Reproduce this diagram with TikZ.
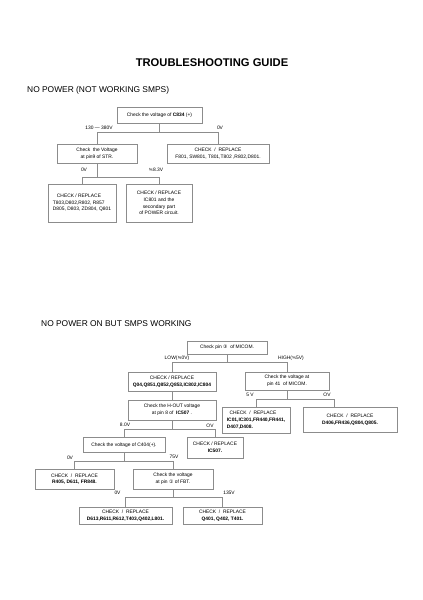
\documentclass[tikz,border=0pt]{standalone}
\usepackage{fontspec}
\setmainfont{Liberation Sans}
\newfontfamily\symf{DejaVu Sans}
\begin{document}
\begin{tikzpicture}[x=1pt,y=-1pt,
  box/.style={draw=black!45,line width=0.5pt,inner sep=1pt,align=center,
    font=\fontsize{4.9}{6.6}\selectfont,text=black},
  conn/.style={draw=black!45,line width=0.5pt},
  lbl/.style={font=\fontsize{4.9}{6}\selectfont,inner sep=0pt},
  ttl/.style={font=\fontsize{8.4}{10}\selectfont,inner sep=0pt,anchor=west}]
\useasboundingbox (0,0) rectangle (423,600);
\fill[white] (0,0) rectangle (423,600);

\node[font=\fontsize{11.2}{13}\selectfont\bfseries,inner sep=0pt] (title) at (212,63) {TROUBLESHOOTING GUIDE};
\node[ttl] (t1) at (27,90) {NO POWER (NOT WORKING SMPS)};
\node[ttl] (t2) at (41,324) {NO POWER ON BUT SMPS WORKING};

% ---------- section 1 ----------
\node[box,minimum width=85,minimum height=16] (A) at (159.5,115) {Check the voltage of \textbf{C834} (+)};
\node[box,minimum width=80,minimum height=19] (B) at (97,153.5) {Check\ \ the Voltage\\at pin9 of STR.};
\node[box,minimum width=102,minimum height=19] (C) at (218,153.5) {CHECK\ \ /\ \ REPLACE\\F801, SW801, T801,T802 ,R802,D801.};
\node[box,minimum width=68,minimum height=38,align=left] (D) at (82,203) {\ \ \ CHECK / REPLACE\\T803,D802,R802, R857\\ D805, D803, ZD804, Q801};
\node[box,minimum width=66,minimum height=38] (E) at (159,203) {CHECK / REPLACE\\IC801 and the\\secondary part\\of POWER circuit.};

\coordinate (s1) at (0,132);
\coordinate (s2) at (0,177);
\draw[conn] (A.south) -- (A.south|-s1);
\draw[conn] (B.north) -- (B.north|-s1) -- (C.north|-s1) -- (C.north);
\draw[conn] (B.south) -- (B.south|-s2);
\draw[conn] (D.north) -- (D.north|-s2) -- (E.north|-s2) -- (E.north);

\node[lbl] (l1) at (99,128) {130 --- 380V};
\node[lbl] (l2) at (220,128) {0V};
\node[lbl] (l3) at (84,170) {0V};
\node[lbl] (l4) at (156,170) {{\symf ≒}8.3V};

% ---------- section 2 ----------
\node[box,minimum width=80,minimum height=13] (F) at (227,347.5) {Check pin {\symf ③}\ \ of MICOM.};
\node[box,minimum width=88,minimum height=19] (G) at (172,381.5) {CHECK / REPLACE\\\textbf{Q04,Q851,Q852,Q853,IC802,IC804}};
\node[box,minimum width=84,minimum height=18] (H) at (287,381) {Check the voltage at\\pin 41\ \ of MICOM.};
\node[box,minimum width=88,minimum height=20] (I) at (172,410) {Check the H-OUT voltage\\at pin 8 of\ \ \textbf{IC507} .};
\node[box,minimum width=68,minimum height=26,align=left] (J) at (256,420) {\ \ CHECK\ \ /\ \ REPLACE\\\textbf{IC01,IC301,FR440,FR441,}\\\textbf{D407,D408.}};
\node[box,minimum width=94,minimum height=25] (K) at (350,419.5) {CHECK\ \ /\ \ REPLACE\\\textbf{D406,FR436,Q804,Q805.}};
\node[box,minimum width=82,minimum height=15] (L) at (124,445) {Check the voltage of C404(+).};
\node[box,minimum width=56,minimum height=21] (M) at (215,447.5) {CHECK / REPLACE\\\textbf{IC507.}};
\node[box,minimum width=79,minimum height=20] (N) at (74.5,479) {CHECK\ \ /\ \ REPLACE\\\textbf{R405, D611, FR848.}};
\node[box,minimum width=80,minimum height=20] (O) at (173,479) {Check the voltage\\at pin {\symf ①} of FBT.};
\node[box,minimum width=93,minimum height=17] (P) at (125.5,515.5) {CHECK\ \ /\ \ REPLACE\\\textbf{D613,R611,R612,T403,Q402,L801.}};
\node[box,minimum width=79,minimum height=17] (Q) at (222.5,515.5) {CHECK\ \ /\ \ REPLACE\\\textbf{Q401, Q402, T401.}};

\coordinate (s3) at (0,362);
\coordinate (s4) at (0,399);
\coordinate (s5) at (0,429);
\coordinate (s6) at (0,461);
\coordinate (s7) at (0,497);
\coordinate (kx) at (334,0);

\draw[conn] (F.south) -- (F.south|-s3);
\draw[conn] (G.north) -- (G.north|-s3) -- (H.north|-s3) -- (H.north);
\draw[conn] (G.south) -- (I.north);
\draw[conn] (H.south) -- (H.south|-s4);
\draw[conn] (J.north) -- (J.north|-s4) -- (kx|-s4) -- (kx|-K.north);
\draw[conn] (I.south) -- (I.south|-s5);
\draw[conn] (L.north) -- (L.north|-s5) -- (M.north|-s5) -- (M.north);
\draw[conn] (L.south) -- (L.south|-s6);
\draw[conn] (N.north) -- (N.north|-s6) -- (O.north|-s6) -- (O.north);
\draw[conn] (O.south) -- (O.south|-s7);
\draw[conn] (P.north) -- (P.north|-s7) -- (Q.north|-s7) -- (Q.north);

\node[lbl] (m1) at (177,358.5) {LOW({\symf ≒}0V)};
\node[lbl] (m2) at (291,358.5) {HIGH({\symf ≒}5V)};
\node[lbl] (m3) at (250,395) {5 V};
\node[lbl] (m4) at (327,395) {OV};
\node[lbl] (m5) at (125,425) {8.0V};
\node[lbl] (m6) at (210,426) {OV};
\node[lbl] (m7) at (70,458) {0V};
\node[lbl] (m8) at (174,457) {75V};
\node[lbl] (m9) at (117.5,493) {0V};
\node[lbl] (m10) at (229,493) {135V};
\end{tikzpicture}
\end{document}
